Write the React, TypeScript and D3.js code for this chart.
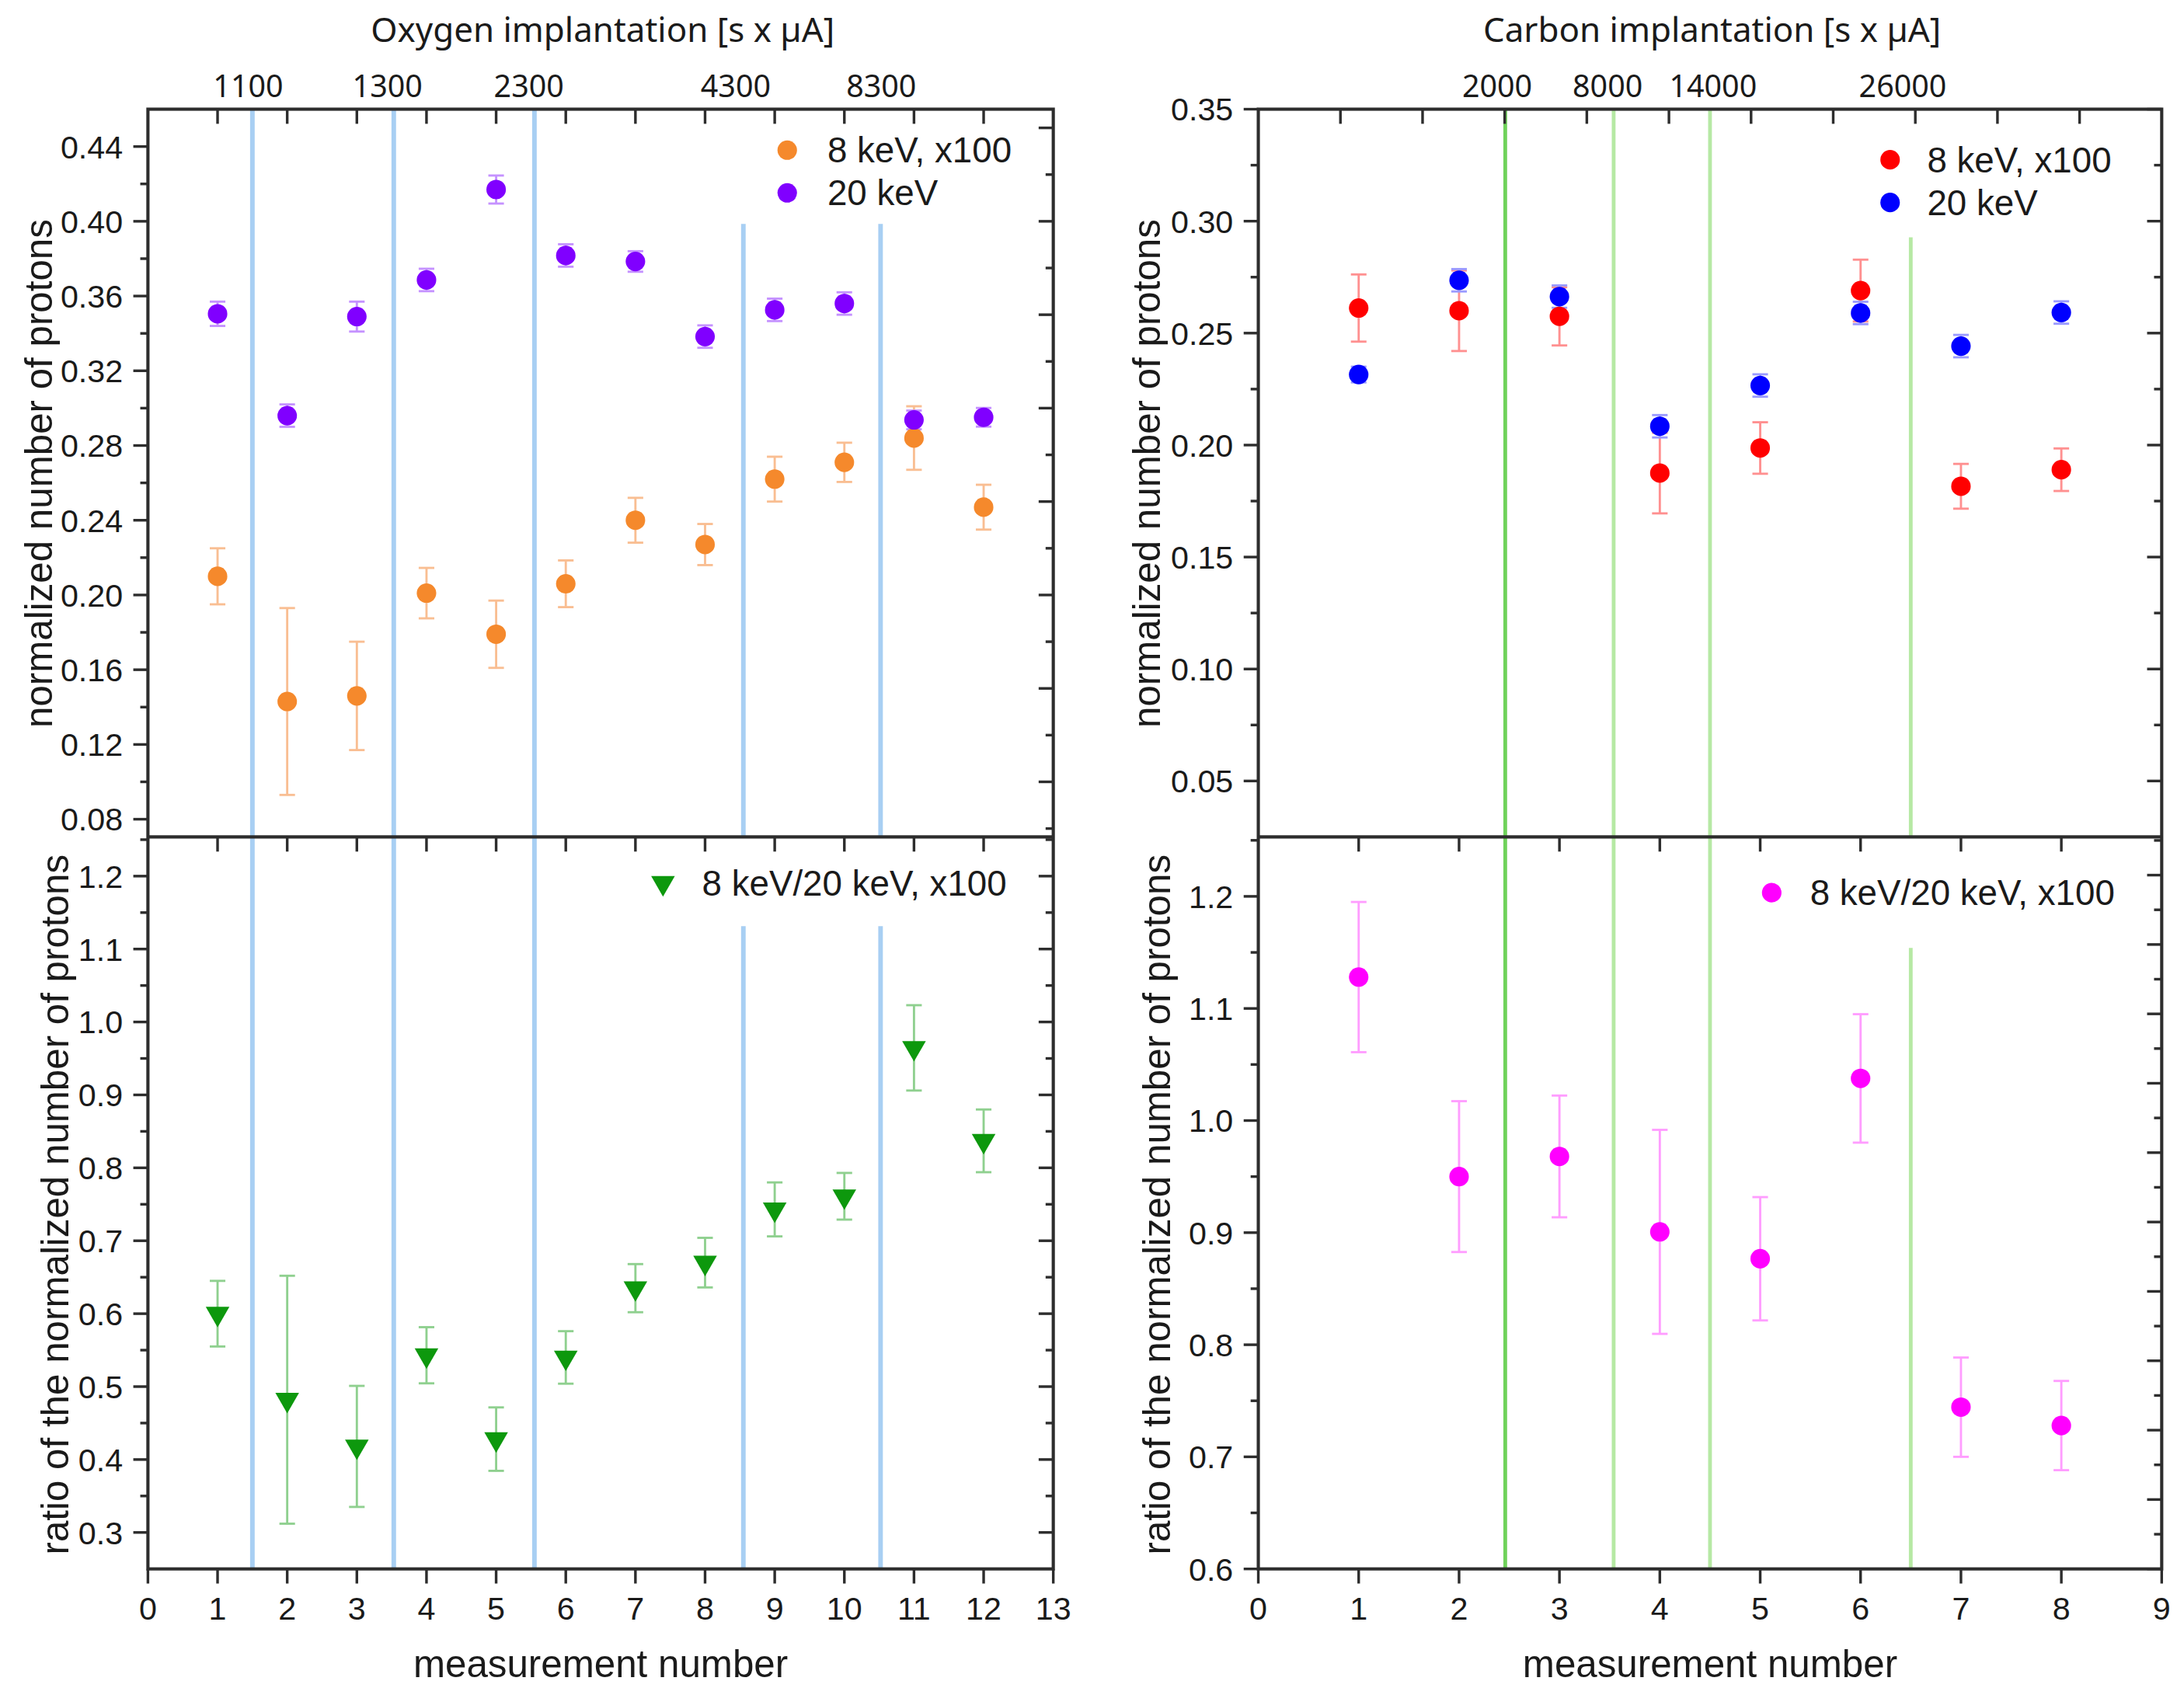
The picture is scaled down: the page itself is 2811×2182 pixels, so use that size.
import React from 'react';
import * as d3 from 'd3';

// ---------- data: oxygen implantation (left column) ----------
const oxyMeasurement = [1, 2, 3, 4, 5, 6, 7, 8, 9, 10, 11, 12];
const oxy8keV = [0.21, 0.143, 0.146, 0.201, 0.179, 0.206, 0.24, 0.227, 0.262, 0.271, 0.284, 0.247];
const oxy8keVErr = [0.015, 0.05, 0.029, 0.0135, 0.018, 0.0125, 0.012, 0.011, 0.012, 0.0105, 0.017, 0.012];
const oxy20keV = [0.3505, 0.296, 0.349, 0.3686, 0.417, 0.3817, 0.3785, 0.3383, 0.3526, 0.356, 0.2937, 0.2951];
const oxy20keVErr = [0.0065, 0.006, 0.008, 0.006, 0.0075, 0.006, 0.0055, 0.006, 0.006, 0.006, 0.005, 0.005];
const oxyRatio = [0.6, 0.482, 0.418, 0.543, 0.428, 0.54, 0.635, 0.67, 0.743, 0.761, 0.9645, 0.837];
const oxyRatioErr = [0.045, 0.17, 0.083, 0.0385, 0.0435, 0.036, 0.033, 0.034, 0.037, 0.032, 0.0585, 0.043];
const oxyDoseLines = [1.5, 3.53, 5.55, 8.55, 10.52];
const oxyDoseLabelPos = [1.44, 3.44, 5.47, 8.44, 10.53];
const oxyDoseLabels = ['1100', '1300', '2300', '4300', '8300'];
const oxyLineStartUpper = [null, null, null, 0.3986, 0.3986];
const oxyLineStartLower = [null, null, null, 1.1315, 1.1315];
const oxyXTicks = [0, 1, 2, 3, 4, 5, 6, 7, 8, 9, 10, 11, 12, 13];
const oxyUpperTicks = [0.08, 0.12, 0.16, 0.2, 0.24, 0.28, 0.32, 0.36, 0.4, 0.44];
const oxyUpperRightTicks = [0.1, 0.15, 0.2, 0.25, 0.3, 0.35, 0.4, 0.45];
const oxyLowerTicks = [0.3, 0.4, 0.5, 0.6, 0.7, 0.8, 0.9, 1.0, 1.1, 1.2];

// ---------- data: carbon implantation (right column) ----------
const carbMeasurement = [1, 2, 3, 4, 5, 6, 7, 8];
const carb8keV = [0.2612, 0.26, 0.2575, 0.1875, 0.1987, 0.269, 0.1816, 0.189];
const carb8keVErr = [0.015, 0.018, 0.013, 0.018, 0.0115, 0.0138, 0.01, 0.0095];
const carb20keV = [0.2315, 0.2736, 0.2663, 0.2084, 0.2266, 0.259, 0.2442, 0.2592];
const carb20keVErr = [0.0035, 0.005, 0.005, 0.005, 0.005, 0.005, 0.005, 0.005];
const carbRatio = [1.128, 0.95, 0.968, 0.9007, 0.8767, 1.0376, 0.7443, 0.7279];
const carbRatioErr = [0.067, 0.0673, 0.0543, 0.091, 0.055, 0.0573, 0.0443, 0.0398];
const carbDoseLines = [2.46, 3.54, 4.5, 6.5];
const carbDoseLabelPos = [2.38, 3.48, 4.53, 6.42];
const carbDoseLabels = ['2000', '8000', '14000', '26000'];
const carbLineStartUpper = [null, null, null, 0.2928];
const carbLineStartLower = [null, null, null, 1.154];
const carbXTicks = [0, 1, 2, 3, 4, 5, 6, 7, 8, 9];
const carbTopTicks = [1, 2, 3, 4, 5, 6, 7, 8, 9, 10];
const carbUpperTicks = [0.05, 0.1, 0.15, 0.2, 0.25, 0.3, 0.35];
const carbLowerTicks = [0.6, 0.7, 0.8, 0.9, 1.0, 1.1, 1.2];
const carbLowerRightTicks = [0, 1, 2, 3, 4, 5, 6, 7, 8, 9, 10];

// ---------- layout ----------
const W = 1568;
const H = (2182 * W) / 2811;
const Y_TOP = 78.4;
const Y_MID = 601;
const Y_BOT = 1126.6;
const INK = '#2d2d2d';
const FONT_AX = "'Liberation Sans', Arial, sans-serif";
const FONT_TOP = "'Noto Sans', sans-serif";
const MAJ = 10.5;
const MIN = 5.5;

const xO = d3.scaleLinear().domain([0, 13]).range([106.2, 756.2]);
const xC = d3.scaleLinear().domain([0, 9]).range([903.4, 1552]);
const xCTop = d3.scaleLinear().domain([0, 11]).range([903.4, 1552]);
const yOU = d3.scaleLinear().domain([0.0705, 0.46]).range([Y_MID, Y_TOP]);
const yOL = d3.scaleLinear().domain([0.25, 1.2537]).range([Y_BOT, Y_MID]);
const yCU = d3.scaleLinear().domain([0.025, 0.35]).range([Y_MID, Y_TOP]);
const yCL = d3.scaleLinear().domain([0.6, 1.253]).range([Y_BOT, Y_MID]);
const yCLRight = d3.scaleLinear().domain([0, 10.55]).range([Y_BOT, Y_MID]);

function minorsOf(majors: number[], lo: number, hi: number) {
  const step = majors[1] - majors[0];
  const out: number[] = [];
  for (let i = -1; i < majors.length; i++) {
    const m = (i < 0 ? majors[0] - step : majors[i]) + step / 2;
    if (m > lo + 1e-9 && m < hi - 1e-9) out.push(m);
  }
  return out;
}

type Series = {
  values: number[];
  errors: number[];
  color: string;
  errColor: string;
  shape: 'circle' | 'triangle';
};

const triPath = d3.symbol(d3.symbolTriangle, 125)() as string;

function Marker({ cx, cy, s }: { cx: number; cy: number; s: Series }) {
  if (s.shape === 'triangle') {
    return <path d={triPath} transform={`translate(${cx},${cy}) rotate(180)`} fill={s.color} />;
  }
  return <circle cx={cx} cy={cy} r={7} fill={s.color} />;
}

function ErrorBars({ xs, s, x, y }: { xs: number[]; s: Series; x: any; y: any }) {
  return (
    <g stroke={s.errColor} strokeWidth={1.6} fill="none">
      {xs.map((m, i) => {
        const cx = x(m);
        const y1 = y(s.values[i] + s.errors[i]);
        const y2 = y(s.values[i] - s.errors[i]);
        return (
          <g key={i}>
            <line x1={cx} x2={cx} y1={y1} y2={y2} />
            <line x1={cx - 5.6} x2={cx + 5.6} y1={y1} y2={y1} />
            <line x1={cx - 5.6} x2={cx + 5.6} y1={y2} y2={y2} />
          </g>
        );
      })}
    </g>
  );
}

function Points({ xs, s, x, y }: { xs: number[]; s: Series; x: any; y: any }) {
  return (
    <g>
      {xs.map((m, i) => (
        <Marker key={i} cx={x(m)} cy={y(s.values[i])} s={s} />
      ))}
    </g>
  );
}

function YTicks({ at, ys, len }: { at: number; ys: number[]; len: number }) {
  return (
    <g>
      {ys.map((v, i) => (
        <line key={i} x1={at} x2={at - len} y1={v} y2={v} />
      ))}
    </g>
  );
}

function XTicks({ at, xs, len }: { at: number; xs: number[]; len: number }) {
  return (
    <g>
      {xs.map((v, i) => (
        <line key={i} x1={v} x2={v} y1={at} y2={at + len} />
      ))}
    </g>
  );
}

type LegendItem = { label: string; s: Series };

function Legend({ mx, tx, y0, dy, items }: { mx: number; tx: number; y0: number; dy: number; items: LegendItem[] }) {
  return (
    <g>
      {items.map((it, i) => (
        <g key={i}>
          <Marker cx={mx} cy={y0 + i * dy} s={it.s} />
          <text x={tx} y={y0 + i * dy + 9} fontFamily={FONT_AX} fontSize={25.5} fill="#1a1a1a">
            {it.label}
          </text>
        </g>
      ))}
    </g>
  );
}

function Column(props: {
  x: any;
  xTop: any;
  topTicks: number[];
  xs: number[];
  xTicks: number[];
  yU: any;
  yL: any;
  leftU: number[];
  leftL: number[];
  fmtU: (v: number) => string;
  fmtL: (v: number) => string;
  rightUMaj: number[];
  rightUMin: number[];
  rightLMaj: number[];
  rightLMin: number[];
  lines: number[];
  lineColors: string[];
  lineWidth: number;
  lineStartU: (number | null)[];
  lineStartL: (number | null)[];
  labelPos: number[];
  labels: string[];
  title: string;
  upper: Series[];
  lower: Series[];
  upperLegend: { mx: number; tx: number; y0: number; items: LegendItem[] };
  lowerLegend: { mx: number; tx: number; y0: number; items: LegendItem[] };
  yTitleXU: number;
  yTitleXL: number;
}) {
  const p = props;
  const [x0, x1] = p.x.range();
  const cx = (x0 + x1) / 2;
  const dom = (s: any) => s.domain() as number[];
  const minU = minorsOf(p.leftU, dom(p.yU)[0], dom(p.yU)[1]);
  const minL = minorsOf(p.leftL, dom(p.yL)[0], dom(p.yL)[1]);

  return (
    <g>
      {/* implantation boundaries */}
      <g>
        {p.lines.map((v, i) => {
          const lx = p.x(v);
          const su = p.lineStartU[i];
          const sl = p.lineStartL[i];
          const col = p.lineColors[i];
          if (su == null && sl == null) {
            return <line key={i} x1={lx} x2={lx} y1={Y_TOP} y2={Y_BOT} stroke={col} strokeWidth={p.lineWidth} />;
          }
          return (
            <g key={i} stroke={col} strokeWidth={p.lineWidth}>
              <line x1={lx} x2={lx} y1={su == null ? Y_TOP : p.yU(su)} y2={Y_MID} />
              <line x1={lx} x2={lx} y1={sl == null ? Y_MID : p.yL(sl)} y2={Y_BOT} />
            </g>
          );
        })}
      </g>

      {/* data */}
      {p.upper.map((s, i) => <ErrorBars key={'eu' + i} xs={p.xs} s={s} x={p.x} y={p.yU} />)}
      {p.upper.map((s, i) => <Points key={'pu' + i} xs={p.xs} s={s} x={p.x} y={p.yU} />)}
      {p.lower.map((s, i) => <ErrorBars key={'el' + i} xs={p.xs} s={s} x={p.x} y={p.yL} />)}
      {p.lower.map((s, i) => <Points key={'pl' + i} xs={p.xs} s={s} x={p.x} y={p.yL} />)}

      {/* frame and ticks */}
      <g stroke={INK} strokeWidth={1.9} fill="none">
        <rect x={x0} y={Y_TOP} width={x1 - x0} height={Y_BOT - Y_TOP} strokeWidth={2.3} />
        <line x1={x0} x2={x1} y1={Y_MID} y2={Y_MID} strokeWidth={2.3} />
        <XTicks at={Y_TOP} xs={p.topTicks.map((v) => p.xTop(v))} len={MAJ} />
        <XTicks at={Y_MID} xs={p.xs.map((v) => p.x(v))} len={MAJ} />
        <XTicks at={Y_BOT} xs={p.xTicks.map((v) => p.x(v))} len={MAJ} />
        <YTicks at={x0} ys={p.leftU.map((v) => p.yU(v))} len={MAJ} />
        <YTicks at={x0} ys={minU.map((v) => p.yU(v))} len={MIN} />
        <YTicks at={x0} ys={p.leftL.map((v) => p.yL(v))} len={MAJ} />
        <YTicks at={x0} ys={minL.map((v) => p.yL(v))} len={MIN} />
        <YTicks at={x1} ys={p.rightUMaj} len={MAJ} />
        <YTicks at={x1} ys={p.rightUMin} len={MIN} />
        <YTicks at={x1} ys={p.rightLMaj} len={MAJ} />
        <YTicks at={x1} ys={p.rightLMin} len={MIN} />
      </g>

      {/* tick labels */}
      <g fontFamily={FONT_AX} fontSize={23} fill="#1a1a1a">
        {p.leftU.map((v, i) => (
          <text key={'lu' + i} x={x0 - 18} y={p.yU(v)} dy="0.36em" textAnchor="end">
            {p.fmtU(v)}
          </text>
        ))}
        {p.leftL.map((v, i) => (
          <text key={'ll' + i} x={x0 - 18} y={p.yL(v)} dy="0.36em" textAnchor="end">
            {p.fmtL(v)}
          </text>
        ))}
        {p.xTicks.map((v, i) => (
          <text key={'xb' + i} x={p.x(v)} y={Y_BOT + 28} dy="0.36em" textAnchor="middle">
            {v}
          </text>
        ))}
      </g>

      {/* axis titles */}
      <g fontFamily={FONT_AX} fontSize={27.5} fill="#1a1a1a" textAnchor="middle">
        <text x={cx} y={1194.4} dy="0.36em">measurement number</text>
        <text transform={`translate(${p.yTitleXU},340) rotate(-90)`} dy="0.36em">
          normalized number of protons
        </text>
        <text transform={`translate(${p.yTitleXL},865) rotate(-90)`} dy="0.36em">
          ratio of the normalized number of protons
        </text>
      </g>

      {/* implantation dose axis */}
      <g fontFamily={FONT_TOP} fill="#1a1a1a" textAnchor="middle">
        <text x={cx + 1.5} y={21.5} dy="0.36em" fontSize={24.5}>
          {p.title}
        </text>
        {p.labels.map((l, i) => (
          <text key={i} x={p.x(p.labelPos[i])} y={61.8} dy="0.36em" fontSize={22}>
            {l}
          </text>
        ))}
      </g>

      <Legend {...p.upperLegend} dy={30.7} />
      <Legend {...p.lowerLegend} dy={30} />
    </g>
  );
}

const sOxy8: Series = { values: oxy8keV, errors: oxy8keVErr, color: '#f5892c', errColor: '#f9be92', shape: 'circle' };
const sOxy20: Series = { values: oxy20keV, errors: oxy20keVErr, color: '#8000ff', errColor: '#c592ff', shape: 'circle' };
const sOxyR: Series = { values: oxyRatio, errors: oxyRatioErr, color: '#0d980d', errColor: '#8fd08f', shape: 'triangle' };
const sCarb8: Series = { values: carb8keV, errors: carb8keVErr, color: '#ff0000', errColor: '#ff9090', shape: 'circle' };
const sCarb20: Series = { values: carb20keV, errors: carb20keVErr, color: '#0000ff', errColor: '#9a9aff', shape: 'circle' };
const sCarbR: Series = { values: carbRatio, errors: carbRatioErr, color: '#ff00ff', errColor: '#ff9dff', shape: 'circle' };

export default function App() {
  const f2 = d3.format('.2f');
  const f1 = d3.format('.1f');
  const oxyRightMin = minorsOf(oxyUpperRightTicks, yOU.domain()[0], yOU.domain()[1]);
  const oxyLowMin = minorsOf(oxyLowerTicks, yOL.domain()[0], yOL.domain()[1]);
  const carbUpMin = minorsOf(carbUpperTicks, yCU.domain()[0], yCU.domain()[1]);
  const carbLowRightMin = minorsOf(carbLowerRightTicks, yCLRight.domain()[0], yCLRight.domain()[1]);

  return (
    <div style={{ position: 'absolute', left: 0, top: 0, background: '#fff' }}>
      <svg width={2811} height={2182} viewBox={`0 0 ${W} ${H}`} style={{ display: 'block' }}>
        <rect width={W} height={H} fill="#fff" />
        <Column
          x={xO}
          xTop={xO}
          topTicks={oxyMeasurement}
          xs={oxyMeasurement}
          xTicks={oxyXTicks}
          yU={yOU}
          yL={yOL}
          leftU={oxyUpperTicks}
          leftL={oxyLowerTicks}
          fmtU={f2}
          fmtL={f1}
          rightUMaj={oxyUpperRightTicks.map((v) => yOU(v))}
          rightUMin={oxyRightMin.map((v) => yOU(v))}
          rightLMaj={oxyLowerTicks.map((v) => yOL(v))}
          rightLMin={oxyLowMin.map((v) => yOL(v))}
          lines={oxyDoseLines}
          lineColors={oxyDoseLines.map(() => '#a8cff3')}
          lineWidth={3.3}
          lineStartU={oxyLineStartUpper}
          lineStartL={oxyLineStartLower}
          labelPos={oxyDoseLabelPos}
          labels={oxyDoseLabels}
          title="Oxygen implantation [s x µA]"
          upper={[sOxy8, sOxy20]}
          lower={[sOxyR]}
          upperLegend={{ mx: 565.2, tx: 594, y0: 107.8, items: [{ label: '8 keV, x100', s: sOxy8 }, { label: '20 keV', s: sOxy20 }] }}
          lowerLegend={{ mx: 476, tx: 504, y0: 634, items: [{ label: '8 keV/20 keV, x100', s: sOxyR }] }}
          yTitleXU={27.5}
          yTitleXL={39}
        />
        <Column
          x={xC}
          xTop={xCTop}
          topTicks={carbTopTicks}
          xs={carbMeasurement}
          xTicks={carbXTicks}
          yU={yCU}
          yL={yCL}
          leftU={carbUpperTicks}
          leftL={carbLowerTicks}
          fmtU={f2}
          fmtL={f1}
          rightUMaj={carbUpperTicks.map((v) => yCU(v))}
          rightUMin={carbUpMin.map((v) => yCU(v))}
          rightLMaj={carbLowerRightTicks.map((v) => yCLRight(v))}
          rightLMin={carbLowRightMin.map((v) => yCLRight(v))}
          lines={carbDoseLines}
          lineColors={['#6fd25a', '#b6e9a4', '#b6e9a4', '#b6e9a4']}
          lineWidth={2.7}
          lineStartU={carbLineStartUpper}
          lineStartL={carbLineStartLower}
          labelPos={carbDoseLabelPos}
          labels={carbDoseLabels}
          title="Carbon implantation [s x µA]"
          upper={[sCarb8, sCarb20]}
          lower={[sCarbR]}
          upperLegend={{ mx: 1357, tx: 1383.6, y0: 114.7, items: [{ label: '8 keV, x100', s: sCarb8 }, { label: '20 keV', s: sCarb20 }] }}
          lowerLegend={{ mx: 1272, tx: 1299.5, y0: 641, items: [{ label: '8 keV/20 keV, x100', s: sCarbR }] }}
          yTitleXU={823}
          yTitleXL={830}
        />
      </svg>
    </div>
  );
}
